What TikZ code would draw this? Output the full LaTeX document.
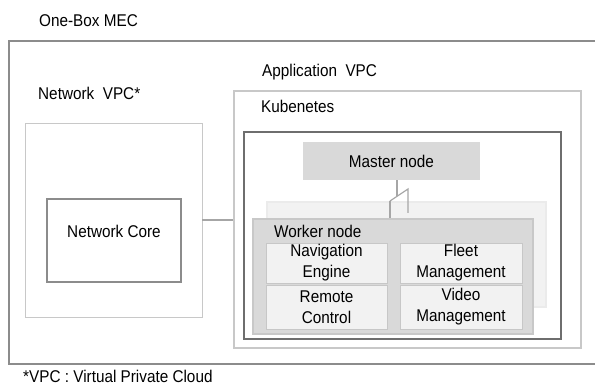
\documentclass[tikz,border=0pt]{standalone}
\usepackage{fontspec}
\setmainfont{Liberation Sans}[FakeStretch=0.9]
\usepackage{tikz}

\definecolor{frameGray}{HTML}{8C8C8C}
\definecolor{lightEdge}{HTML}{C8C8C8}
\definecolor{darkEdge}{HTML}{6E6E6E}
\definecolor{boxFill}{HTML}{D9D9D9}
\definecolor{paleFill}{HTML}{F2F2F2}

\begin{document}
\begin{tikzpicture}[x=1pt, y=-1pt,
    every node/.style={font=\fontsize{17}{21}\selectfont, text=black},
    caption/.style={anchor=base west, inner sep=0pt},
    vpcbox/.style={draw=lightEdge, line width=1.2pt, minimum width=#1},
    kubebox/.style={draw=darkEdge, line width=1.5pt},
    corebox/.style={draw=frameGray, line width=1.3pt},
    masterbox/.style={fill=boxFill, inner sep=0pt},
    workerbox/.style={fill=boxFill, draw=lightEdge, line width=1.2pt},
    shadowbox/.style={fill=paleFill, draw=black!8, line width=1.2pt},
    appbox/.style={fill=paleFill, draw=black!22, line width=0.8pt, align=center, inner sep=0pt},
    link/.style={draw=black!35, line width=1.2pt}]
  \useasboundingbox (0,0) rectangle (595,385);

  % one-box frame, open on the right
  \draw[frameGray, line width=1.2pt] (595,41) -- (9,41) -- (9,364) -- (595,364);
  \node[caption] (mec) at (39,27) {One-Box MEC};

  % network side
  \node[vpcbox=177pt, line width=0.9pt, minimum height=194pt] (netvpc) at (113.5,220) {};
  \node[caption] (netlabel) at (38,100) {Network\ \ VPC*};
  \node[corebox, minimum width=134pt, minimum height=83pt] (core) at (114,240.5) {};
  \node[anchor=base, inner sep=0pt] (corelabel) at (114,238) {Network Core};

  % application side
  \node[vpcbox=347pt, minimum height=257pt] (appvpc) at (407.5,219.5) {};
  \node[caption] (applabel) at (262,77) {Application\ \ VPC};
  \node[kubebox, minimum width=317pt, minimum height=207pt] (kube) at (402.5,235.5) {};
  \node[caption] (kubelabel) at (261,113) {Kubenetes};

  \node[masterbox, minimum width=177pt, minimum height=38pt] (master) at (391.5,161) {Master node};
  \node[shadowbox, minimum width=279pt, minimum height=105pt] (worker2) at (406.5,254.5) {};

  \coordinate (tap) at (397,196);
  \coordinate (bk1) at (390,201);
  \coordinate (bk2) at (408,189);
  \coordinate (bk3) at (408,213);
  \draw[link] (tap |- master.south) -- (tap);
  \draw[link] (bk1) -- (bk2) -- (bk3);
  \draw[link] (bk1) -- (bk1 |- 0,222);

  \node[workerbox, minimum width=280pt, minimum height=115pt] (worker) at (393,276.5) {};
  \node[caption] (workerlabel) at (274,238) {Worker node};
  \node[appbox, minimum width=121pt, minimum height=40pt] (nav) at (326.5,263) {Navigation\\Engine};
  \node[appbox, minimum width=122pt, minimum height=40pt] (fleet) at (461,263) {Fleet\\Management};
  \node[appbox, minimum width=121pt, minimum height=44pt] (remote) at (326.5,307) {Remote\\Control};
  \node[appbox, minimum width=122pt, minimum height=44pt] (video) at (461,307) {Video\\Management};

  \draw[link] (netvpc.east) -- (netvpc.east -| appvpc.west);

  \node[caption] (footnote) at (23,382) {*VPC : Virtual Private Cloud};
\end{tikzpicture}
\end{document}
